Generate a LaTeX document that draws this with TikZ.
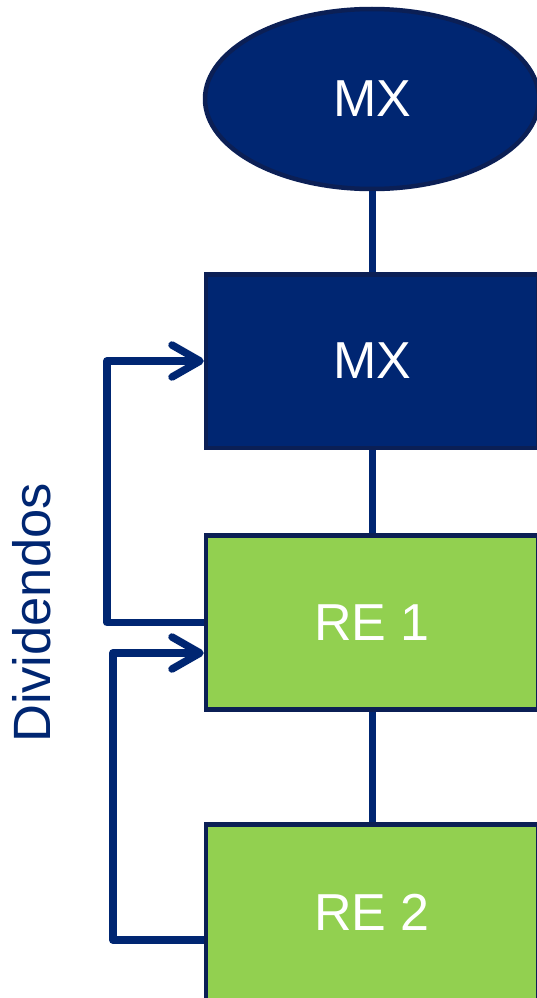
\documentclass[tikz,border=0pt]{standalone}
\usepackage{fontspec}
\setmainfont{Liberation Sans}
\usetikzlibrary{shapes.geometric,arrows.meta}
\definecolor{navy}{HTML}{002672}
\definecolor{navyedge}{HTML}{0B1F55}
\definecolor{lgreen}{HTML}{92D050}
\begin{document}
\begin{tikzpicture}[x=1pt,y=-1pt,
  shapebase/.style={draw=navyedge, line width=4.5pt, inner sep=0pt, text=white,
    font=\fontsize{52}{60}\selectfont},
  navybox/.style={shapebase, rectangle, fill=navy, minimum width=332pt, minimum height=173.5pt},
  greenbox/.style={shapebase, rectangle, fill=lgreen, minimum width=332pt, minimum height=174pt},
  navyell/.style={shapebase, ellipse, fill=navy, minimum width=334pt, minimum height=180pt},
  link/.style={draw=navy, line width=7pt},
  fb/.style={draw=navy, line width=7.5pt, line join=round, line cap=butt,
    -{Straight Barb[length=28pt, width=32pt, line cap=round, line join=round]}}
]
\useasboundingbox (0,0) rectangle (537,998);
\node[navyell] (top) at (372,99) {MX};
\node[navybox] (mx) at (372,361) {MX};
\node[greenbox] (re1) at (372,622.5) {RE 1};
\node[greenbox, minimum height=190pt, text depth=14pt] (re2) at (372,919.25) {RE 2};
\draw[link] (top.south) -- (mx.north);
\draw[link] (mx.south) -- (re1.north);
\draw[link] (re1.south) -- (re2.north);
\draw[fb] (re1.west) -- ([xshift=-97pt]re1.west) |- (mx.west);
\draw[fb] ([yshift=-20.75pt]re2.west) -- ([xshift=-91pt,yshift=-20.75pt]re2.west) |- ([yshift=-30.5pt]re1.west);
\node[rotate=90, text=navy, font=\fontsize{52.5}{60}\selectfont, inner sep=0pt] (div) at (32,613) {Dividendos};
\end{tikzpicture}
\end{document}
